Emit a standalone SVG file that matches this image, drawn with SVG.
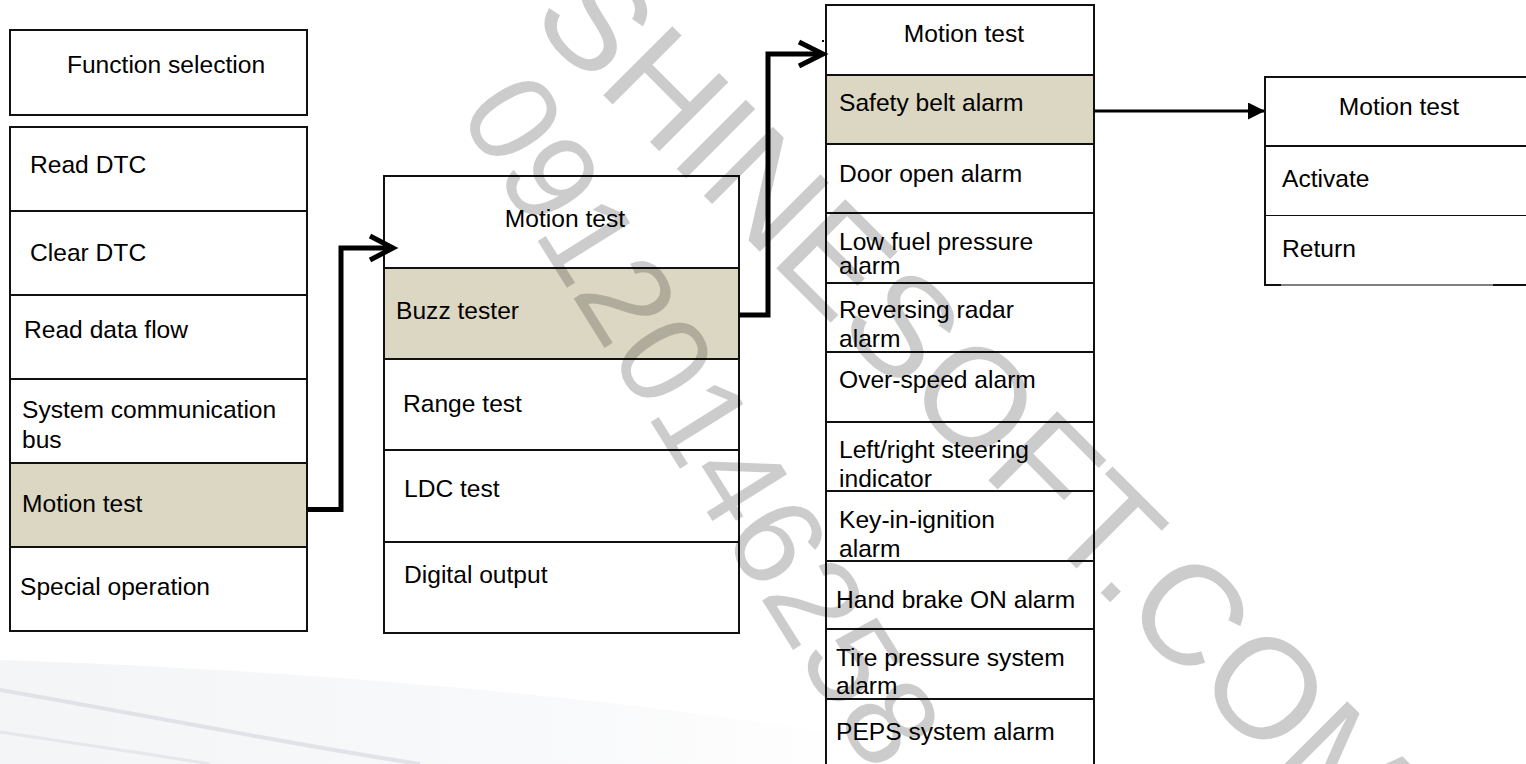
<svg xmlns="http://www.w3.org/2000/svg" width="1526" height="764" viewBox="0 0 1526 764">
<style>
.box{fill:#ffffff;stroke:#111;stroke-width:2}
.sel{fill:#dbd7c3;stroke:#111;stroke-width:2}
.t{font-family:"Liberation Sans",Arial,sans-serif;font-size:24.6px;fill:#000}
.c{text-anchor:middle}
.wire{fill:none;stroke:#000;stroke-width:5;stroke-linejoin:miter}
.wm{font-family:"Liberation Sans",Arial,sans-serif;fill:#000;fill-opacity:0.2}
</style>
<defs>
<linearGradient id="bg" x1="0" y1="0" x2="1" y2="0">
<stop offset="0" stop-color="#eceef1"/>
<stop offset="0.6" stop-color="#f5f6f8"/>
<stop offset="1" stop-color="#ffffff" stop-opacity="0"/>
</linearGradient>
<marker id="tri" markerWidth="18" markerHeight="18" refX="16" refY="8.5" orient="auto" markerUnits="userSpaceOnUse">
<path d="M0,0 L17,8.5 L0,17 Z" fill="#000"/>
</marker>
</defs>
<rect width="1526" height="764" fill="#ffffff"/>
<g id="background">
<path d="M0,660 C300,670 700,700 1000,764 L0,764 Z" fill="url(#bg)" opacity="0.6"/>
<path d="M0,690 C150,716 300,746 420,764" fill="none" stroke="#d3d6dc" stroke-width="4" opacity="0.6"/>
<path d="M0,732 C80,744 150,754 210,764" fill="none" stroke="#dadde2" stroke-width="3" opacity="0.6"/>
</g>

<g id="function-selection">
<rect class="box" x="10" y="30" width="297" height="85"/>
<text class="t c" x="166" y="73">Function selection</text>
</g>

<g id="main-menu">
<g id="read-dtc"><rect class="box" x="10" y="127" width="297" height="84"/><text class="t" x="30" y="173">Read DTC</text></g>
<g id="clear-dtc"><rect class="box" x="10" y="211" width="297" height="84"/><text class="t" x="30" y="261">Clear DTC</text></g>
<g id="read-data-flow"><rect class="box" x="10" y="295" width="297" height="84"/><text class="t" x="24" y="338">Read data flow</text></g>
<g id="system-bus"><rect class="box" x="10" y="379" width="297" height="84"/><text class="t" x="22" y="418">System communication</text><text class="t" x="22" y="448">bus</text></g>
<g id="motion-test"><rect class="sel" x="10" y="463" width="297" height="84"/><text class="t" x="22" y="512">Motion test</text></g>
<g id="special-operation"><rect class="box" x="10" y="547" width="297" height="84"/><text class="t" x="20" y="595">Special operation</text></g>
</g>

<g id="motion-menu">
<g id="motion-title"><rect class="box" x="384" y="176" width="355" height="92"/><text class="t c" x="565" y="227">Motion test</text></g>
<g id="buzz-tester"><rect class="sel" x="384" y="268" width="355" height="91"/><text class="t" x="396" y="319">Buzz tester</text></g>
<g id="range-test"><rect class="box" x="384" y="359" width="355" height="91"/><text class="t" x="403" y="412">Range test</text></g>
<g id="ldc-test"><rect class="box" x="384" y="450" width="355" height="92"/><text class="t" x="404" y="497">LDC test</text></g>
<g id="digital-output"><rect class="box" x="384" y="542" width="355" height="91"/><text class="t" x="404" y="583">Digital output</text></g>
</g>

<g id="buzz-menu">
<g id="buzz-title"><rect class="box" x="826" y="5" width="268" height="70"/><text class="t c" x="964" y="42">Motion test</text></g>
<g id="safety-belt"><rect class="sel" x="826" y="75" width="268" height="69"/><text class="t" x="839" y="111">Safety belt alarm</text></g>
<g id="door-open"><rect class="box" x="826" y="144" width="268" height="69"/><text class="t" x="839" y="182">Door open alarm</text></g>
<g id="low-fuel"><rect class="box" x="826" y="213" width="268" height="70"/><text class="t" x="839" y="250">Low fuel pressure</text><text class="t" x="839" y="274">alarm</text></g>
<g id="reversing-radar"><rect class="box" x="826" y="283" width="268" height="69"/><text class="t" x="839" y="318">Reversing radar</text><text class="t" x="839" y="347">alarm</text></g>
<g id="over-speed"><rect class="box" x="826" y="352" width="268" height="70"/><text class="t" x="839" y="388">Over-speed alarm</text></g>
<g id="steering-indicator"><rect class="box" x="826" y="422" width="268" height="69"/><text class="t" x="839" y="458">Left/right steering</text><text class="t" x="839" y="487">indicator</text></g>
<g id="key-in-ignition"><rect class="box" x="826" y="491" width="268" height="70"/><text class="t" x="839" y="528">Key-in-ignition</text><text class="t" x="839" y="557">alarm</text></g>
<g id="hand-brake"><rect class="box" x="826" y="561" width="268" height="68"/><text class="t" x="836" y="608">Hand brake ON alarm</text></g>
<g id="tire-pressure"><rect class="box" x="826" y="629" width="268" height="70"/><text class="t" x="836" y="666">Tire pressure system</text><text class="t" x="836" y="694">alarm</text></g>
<g id="peps"><rect class="box" x="826" y="699" width="268" height="90"/><text class="t" x="836" y="740">PEPS system alarm</text></g>
</g>

<g id="action-menu">
<g id="action-title"><rect class="box" x="1265" y="77" width="280" height="69"/><text class="t c" x="1399" y="115">Motion test</text></g>
<g id="activate"><rect class="box" x="1265" y="146" width="280" height="70"/><text class="t" x="1282" y="187">Activate</text></g>
<g id="return"><rect x="1265" y="216" width="280" height="69" fill="#fff"/>
<path d="M1265,216 V285 H1281 M1493,285 H1530" fill="none" stroke="#111" stroke-width="2"/>
<path d="M1281,285 H1493" fill="none" stroke="#555" stroke-width="1.5"/>
<text class="t" x="1282" y="257">Return</text></g>
</g>

<g id="connectors">
<path class="wire" d="M308,509.5 H341 V248 H390"/>
<path class="wire" d="M370,236 L393,248 L370,260"/>
<rect x="306" y="507" width="3" height="3" fill="#000"/>
<path class="wire" d="M739,315 H768 V54 H820"/>
<path class="wire" d="M799,42 L823,54 L799,66"/>
<rect x="822" y="40" width="2" height="2" fill="#000"/>
<path d="M1094,111 H1264" fill="none" stroke="#000" stroke-width="3" marker-end="url(#tri)"/>
</g>

<g id="watermark">
<text class="wm" font-size="142" transform="translate(528,20) rotate(45)">SHINESOFT.COM</text>
<text class="wm" font-size="128" transform="translate(457,112) rotate(58)">09120146258</text>
</g>
</svg>
